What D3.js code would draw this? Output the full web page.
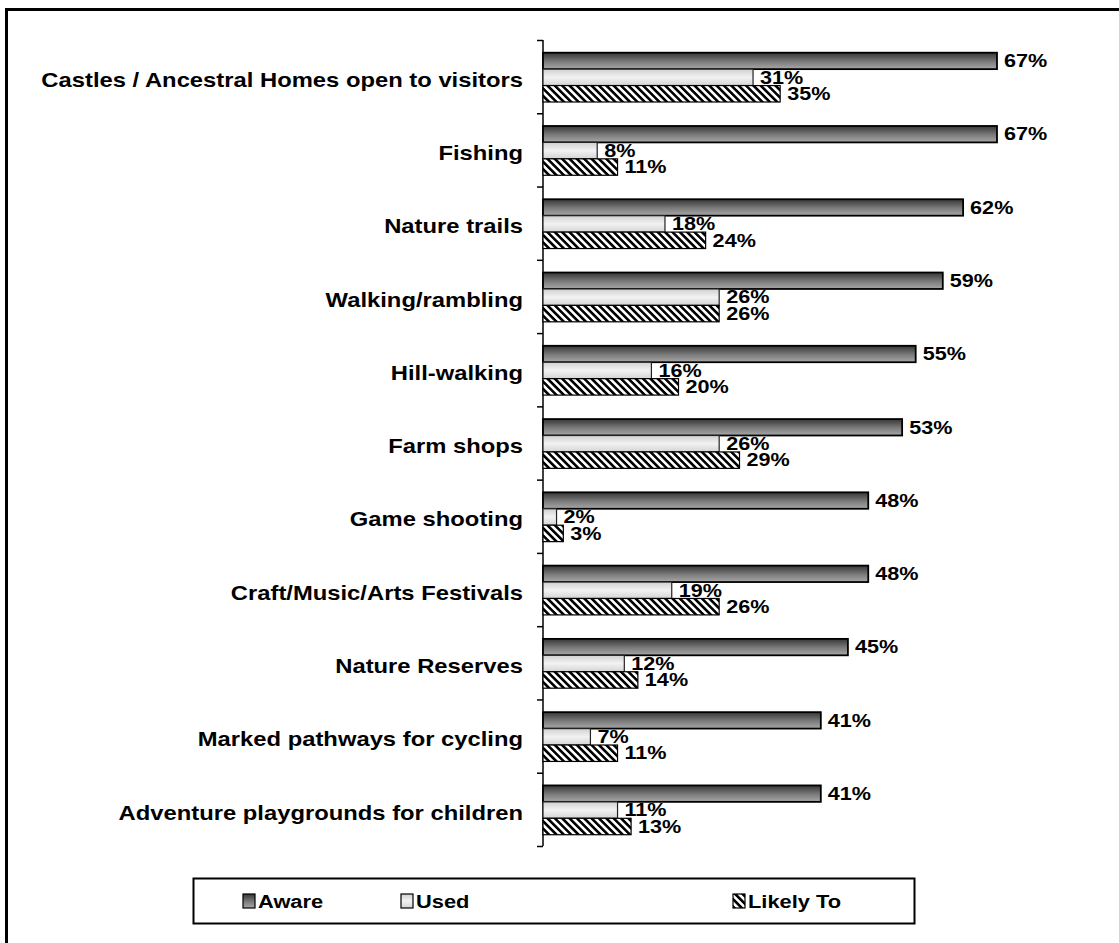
<!DOCTYPE html>
<html>
<head>
<meta charset="utf-8">
<script src="https://cdn.jsdelivr.net/npm/d3@7"></script>
<style>
  body { margin: 0; background: #fff; }
  text { font-family: Arial, "Liberation Sans", sans-serif; font-weight: bold; fill: #000; }
</style>
</head>
<body>
<svg id="chart" width="1119" height="943"></svg>
<script>
const categories = [
  "Castles / Ancestral Homes open to visitors",
  "Fishing",
  "Nature trails",
  "Walking/rambling",
  "Hill-walking",
  "Farm shops",
  "Game shooting",
  "Craft/Music/Arts Festivals",
  "Nature Reserves",
  "Marked pathways for cycling",
  "Adventure playgrounds for children"
];
const seriesNames = ["Aware", "Used", "Likely To"];
const aware  = [67, 67, 62, 59, 55, 53, 48, 48, 45, 41, 41];
const used   = [31, 8, 18, 26, 16, 26, 2, 19, 12, 7, 11];
const likely = [35, 11, 24, 26, 20, 29, 3, 26, 14, 11, 13];

const svg = d3.select("#chart");

// fills
const defs = svg.append("defs");
const gA = defs.append("linearGradient").attr("id", "gAware")
  .attr("x1", 0).attr("y1", 0).attr("x2", 0).attr("y2", 1);
gA.append("stop").attr("offset", "0%").attr("stop-color", "#363636");
gA.append("stop").attr("offset", "55%").attr("stop-color", "#7c7c7c");
gA.append("stop").attr("offset", "100%").attr("stop-color", "#a8a8a8");
const gU = defs.append("linearGradient").attr("id", "gUsed")
  .attr("x1", 0).attr("y1", 0).attr("x2", 0).attr("y2", 1);
gU.append("stop").attr("offset", "0%").attr("stop-color", "#d0d0d0");
gU.append("stop").attr("offset", "50%").attr("stop-color", "#f2f2f2");
gU.append("stop").attr("offset", "100%").attr("stop-color", "#d4d4d4");
const pat = defs.append("pattern").attr("id", "hatch")
  .attr("patternUnits", "userSpaceOnUse")
  .attr("width", 5.2).attr("height", 5.2)
  .attr("patternTransform", "rotate(-45)");
pat.append("rect").attr("width", 5.2).attr("height", 5.2).attr("fill", "#fff");
pat.append("rect").attr("width", 2.6).attr("height", 5.2).attr("fill", "#000");

const fills = ["url(#gAware)", "url(#gUsed)", "url(#hatch)"];
const strokes = ["#000", "#222", "#000"];

// outer frame
svg.append("rect")
  .attr("x", 6.5).attr("y", 9.5).attr("width", 1200).attr("height", 1000)
  .attr("fill", "none").attr("stroke", "#000").attr("stroke-width", 3);

// scales
const x = d3.scaleLinear().domain([0, 70]).range([543, 543 + 70 * 6.776]);
const y = d3.scaleBand().domain(categories).range([40, 846]).padding(0);
const ySub = d3.scaleBand().domain(seriesNames)
  .range([12.7, 62]).padding(0);

// axis with ticks between categories
const yTicks = d3.scaleLinear().domain([0, categories.length]).range([40, 846]);
svg.append("g")
  .attr("transform", "translate(543,0)")
  .call(d3.axisLeft(yTicks).ticks(categories.length).tickSize(6).tickFormat(""))
  .call(g => g.select(".domain").attr("stroke-width", 1.5).attr("d", "M0,40V846"))
  .call(g => g.selectAll(".tick line").attr("stroke-width", 1.5));

const rows = categories.map((c, i) => ({ cat: c, vals: [aware[i], used[i], likely[i]] }));

const grp = svg.append("g").selectAll("g").data(rows).join("g")
  .attr("transform", d => `translate(0,${y(d.cat)})`);

const cells = grp.selectAll("g.bar")
  .data(d => d.vals.map((v, k) => ({ v, k, s: seriesNames[k] })))
  .join("g").attr("class", "bar");

cells.append("rect")
  .attr("x", x(0))
  .attr("y", d => ySub(d.s))
  .attr("width", d => x(d.v) - x(0))
  .attr("height", ySub.bandwidth())
  .attr("fill", d => fills[d.k])
  .attr("stroke", d => strokes[d.k])
  .attr("stroke-width", d => d.k === 0 ? 1.8 : 1.2);

cells.append("text")
  .attr("transform", d => `translate(${x(d.v) + 7},${ySub(d.s) + ySub.bandwidth() / 2 + 1.5}) scale(1.2,1)`)
  .attr("dominant-baseline", "middle")
  .attr("font-size", 18)
  .text(d => d.v + "%");

// category labels
svg.append("g").selectAll("text").data(categories).join("text")
  .attr("transform", d => `translate(523,${y(d) + y.bandwidth() / 2 + 5}) scale(1.22,1)`)
  .attr("text-anchor", "end")
  .attr("dominant-baseline", "middle")
  .attr("font-size", 19.5)
  .text(d => d);

// legend
const legend = svg.append("g");
legend.append("rect")
  .attr("x", 193.5).attr("y", 878.5).attr("width", 721).attr("height", 45)
  .attr("fill", "#fff").attr("stroke", "#000").attr("stroke-width", 2);
const legX = [243, 401, 733];
const items = legend.selectAll("g.item").data(seriesNames).join("g")
  .attr("class", "item")
  .attr("transform", (d, i) => `translate(${legX[i]},901)`);
items.append("rect")
  .attr("x", 0).attr("y", -7).attr("width", 12).attr("height", 14)
  .attr("fill", (d, i) => fills[i]).attr("stroke", "#000").attr("stroke-width", 1.2);
items.append("text")
  .attr("transform", `translate(15,1.5) scale(1.15,1)`)
  .attr("dominant-baseline", "middle")
  .attr("font-size", 19)
  .text(d => d);
</script>
</body>
</html>
